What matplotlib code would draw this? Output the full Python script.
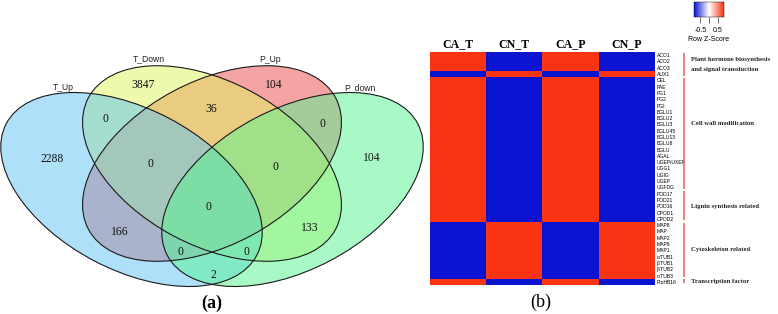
import matplotlib
matplotlib.use('Agg')
import matplotlib.pyplot as plt
import matplotlib.transforms as mtransforms
from matplotlib.patches import Ellipse
from matplotlib.colors import LinearSegmentedColormap

# ---------------- data ----------------
# Venn (a)
set_names = ['T_Up', 'T_Down', 'P_Up', 'P_down']
region_keys = ['A', 'B', 'C', 'D', 'AB', 'BC', 'CD', 'AC', 'BD', 'AD',
               'ABC', 'BCD', 'ACD', 'ABD', 'ABCD']
region_counts = [2288, 3847, 104, 104, 0, 36, 0, 166, 133, 2,
                 0, 0, 0, 0, 0]

# Heatmap (b)
conditions = ['CA_T', 'CN_T', 'CA_P', 'CN_P']
genes = ['ACO1', 'ACO2', 'ACO3', 'AUX1',
         'CEL', 'PAE', 'PG1', 'PG2', 'PGI', 'BGLU1', 'BGLU2', 'BGLU3', 'BGLU45',
         'BGLU13', 'BGLU8', 'BGLU', 'AGAL', 'UGEP/UXEP', 'UGG1', 'UGIG', 'UGEP', 'UGFDG',
         'POD17', 'POD21', 'POD16', 'CPOD1', 'CPOD2',
         'MAP8', 'MAP', 'MAP2', 'MAP6', 'MAP1', 'α.TUB1', 'β.TUB1', 'β.TUB2', 'α.TUB3',
         'PtoHB16']
hi = [0.87, -0.87, 0.87, -0.87]   # up in CA samples
lo = [-0.87, 0.87, -0.87, 0.87]   # up in CN samples
z_scores = [hi, hi, hi, lo,
            hi, hi, hi, hi, hi, hi, hi, hi, hi, hi, hi, hi, hi, hi, hi, hi, hi, hi,
            hi, hi, hi, hi, hi,
            lo, lo, lo, lo, lo, lo, lo, lo, lo,
            hi]
group_names = ['Plant hormone biosynthesis\nand signal transduction',
               'Cell wall modification', 'Lignin synthesis related',
               'Cytoskeleton related', 'Transcription factor']
group_rows = [(0, 3), (4, 21), (22, 26), (27, 35), (36, 36)]

# ---------------- layout / style ----------------
W, H = 778, 314
serif = 'Liberation Serif'
sans = 'Liberation Sans'

# ellipse geometry in pixels: (center, width, height, angle)
ellipses = [((131.5, 189.5), 283, 161, 27.7),
            ((212.0, 163.5), 280, 164, 28.0),
            ((212.0, 163.5), 280, 164, -28.0),
            ((292.5, 189.5), 283, 161, -27.7)]
fill_colors = ['#5FC3F5', '#E1F55F', '#EB4B4B', '#55F591']
draw_order = [2, 1, 0, 3]
name_pos = [(63, 87), (149, 59), (270, 59), (360, 88)]
region_pos = {'A': (52, 159), 'B': (143, 85), 'C': (274, 85), 'D': (372, 158),
              'AB': (105, 119), 'BC': (211, 109), 'CD': (322, 124),
              'AC': (120, 232), 'BD': (310, 228), 'AD': (213, 275),
              'ABC': (150, 164), 'BCD': (275, 167), 'ACD': (180, 252),
              'ABD': (246, 252), 'ABCD': (208, 207)}

fig = plt.figure(figsize=(W / 100, H / 100), dpi=100)

# ---- (a) Venn diagram, drawn in pixel coordinates ----
vax = fig.add_axes([0, 0, 1, 1])
vax.set_xlim(0, W)
vax.set_ylim(H, 0)
vax.axis('off')

for i in draw_order:
    c, w, h, ang = ellipses[i]
    vax.add_patch(Ellipse(c, w, h, angle=ang, facecolor=fill_colors[i],
                          alpha=0.5, edgecolor='none'))
for c, w, h, ang in ellipses:
    vax.add_patch(Ellipse(c, w, h, angle=ang, facecolor='none',
                          edgecolor='#1a1a1a', lw=0.8))

for name, (x, y) in zip(set_names, name_pos):
    vax.text(x, y, name, ha='center', va='center', fontsize=6.2,
             family=sans, color='#222222')
for key, n in zip(region_keys, region_counts):
    x, y = region_pos[key]
    vax.text(x, y, str(n), ha='center', va='center', fontsize=8.4,
             family=serif, color='#111111')
vax.text(212, 303, '(a)', ha='center', va='center', fontsize=13,
         family=serif, fontweight='bold')
vax.text(541, 302, '(b)', ha='center', va='center', fontsize=13, family=serif)

# ---- (b) heatmap ----
hx0, hx1, hy0, hy1 = 430, 655, 52, 285
hax = fig.add_axes([hx0 / W, 1 - hy1 / H, (hx1 - hx0) / W, (hy1 - hy0) / H])
cmap = LinearSegmentedColormap.from_list('rowz', ['#0A14D0', '#FFFFFF', '#FA3412'])
im = hax.imshow(z_scores, cmap=cmap, vmin=-0.87, vmax=0.87, aspect='auto',
                interpolation='nearest')
for s in hax.spines.values():
    s.set_visible(False)

hax.set_xticks(range(len(conditions)))
hax.set_xticklabels(conditions, family=serif, fontweight='bold', fontsize=8.6)
hax.xaxis.tick_top()
hax.tick_params(axis='x', length=0, pad=1.5)

hax.set_yticks(range(len(genes)))
hax.set_yticklabels(genes, family=sans, fontsize=3.6)
hax.yaxis.tick_right()
hax.tick_params(axis='y', length=0, pad=1.5)

# group brackets and labels
trans = mtransforms.blended_transform_factory(hax.transAxes, hax.transData)
bar_x = (684 - hx0) / (hx1 - hx0)
lab_x = (691 - hx0) / (hx1 - hx0)
label_rows = [1.5, 10.8, 24.1, 30.8, 36.0]
for (r0, r1), name, ly in zip(group_rows, group_names, label_rows):
    hax.plot([bar_x, bar_x], [r0 - 0.4, r1 + 0.25], color='#F07474', lw=1.3,
             transform=trans, clip_on=False, solid_capstyle='butt')
    hax.text(lab_x, ly, name, transform=trans, ha='left', va='center',
             fontsize=4.8, family=serif, fontweight='bold', color='#222222',
             linespacing=2.1)

# colour key
cax = fig.add_axes([694 / W, 1 - 17 / H, 30 / W, 15 / H])
cb = fig.colorbar(im, cax=cax, orientation='horizontal', ticks=[-0.5, 0, 0.5])
cb.ax.set_xticklabels(['-0.5', '', '0.5'], family=sans)
cb.ax.tick_params(labelsize=5, length=4, width=0.5, pad=3, color='#333333')
cb.outline.set_linewidth(0.3)
cb.set_label('Row Z-Score', fontsize=5, family=sans, labelpad=1.5)

fig.savefig('out.png', dpi=100)
